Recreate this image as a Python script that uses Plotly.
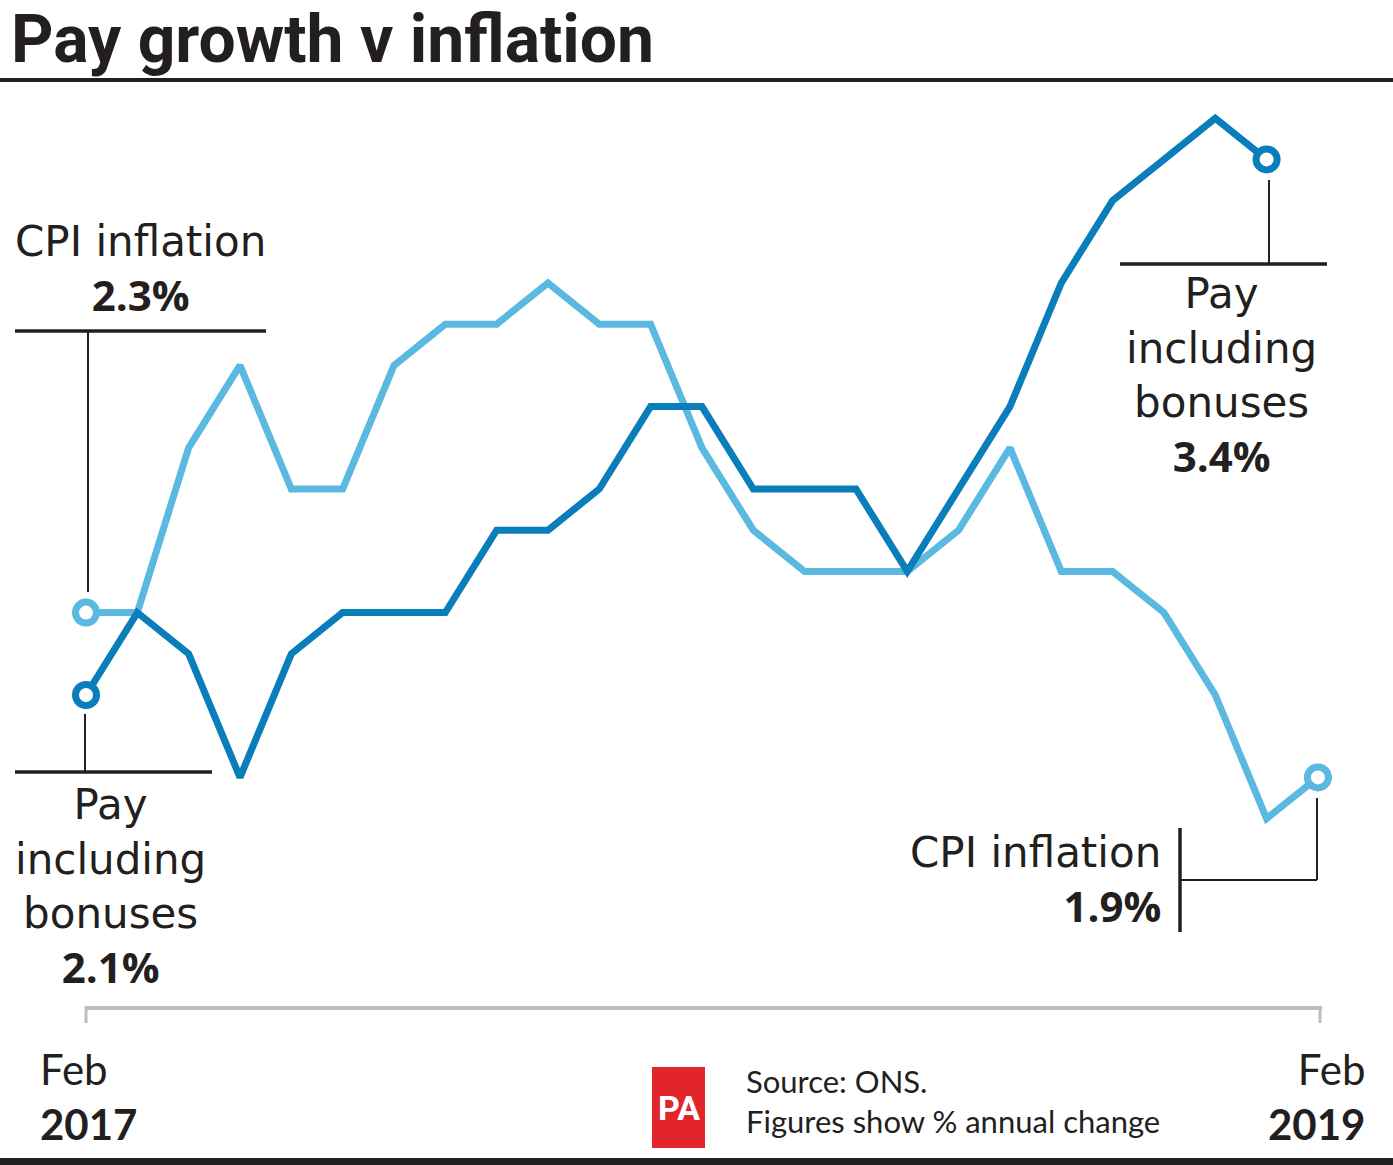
import plotly.graph_objects as go

# ---------------- data ----------------
months = ["Feb 2017", "Mar 2017", "Apr 2017", "May 2017", "Jun 2017", "Jul 2017",
          "Aug 2017", "Sep 2017", "Oct 2017", "Nov 2017", "Dec 2017", "Jan 2018",
          "Feb 2018", "Mar 2018", "Apr 2018", "May 2018", "Jun 2018", "Jul 2018",
          "Aug 2018", "Sep 2018", "Oct 2018", "Nov 2018", "Dec 2018", "Jan 2019",
          "Feb 2019"]
pay_incl_bonuses = [2.1, 2.3, 2.2, 1.9, 2.2, 2.3, 2.3, 2.3, 2.5, 2.5, 2.6, 2.8,
                    2.8, 2.6, 2.6, 2.6, 2.4, 2.6, 2.8, 3.1, 3.3, 3.4, 3.5, 3.4]
cpi_inflation = [2.3, 2.3, 2.7, 2.9, 2.6, 2.6, 2.9, 3.0, 3.0, 3.1, 3.0, 3.0,
                 2.7, 2.5, 2.4, 2.4, 2.4, 2.5, 2.7, 2.4, 2.4, 2.3, 2.1, 1.8, 1.9]
start_label = ("Feb", "2017")
end_label = ("Feb", "2019")

# ---------------- layout constants ----------------
W, H = 1393, 1165
DARK = "#0a7dbb"
LIGHT = "#5bb8e1"
INK = "#231f20"
FONT = "DejaVu Sans"
BOLD_FONT = "Open Sans"
SMALL_FONT = "Lato"
TITLE_FONT = "Roboto"

def px(x):
    return x / W

def py(y):
    return 1 - y / H

x_idx = list(range(len(months)))
pay_x = x_idx[:len(pay_incl_bonuses)]
cpi_x = x_idx[:len(cpi_inflation)]

# pixel mapping for the plot: month 0 -> 86px, month step 51.33px
x0_px, step = 86.0, 51.33
y_ref_px, y_ref_val, px_per_pt = 695.0, 2.1, 412.0
x_range = [-x0_px / step, (W - x0_px) / step]
y_range = [y_ref_val - (H - y_ref_px) / px_per_pt, y_ref_val + y_ref_px / px_per_pt]

fig = go.Figure()

fig.add_trace(go.Scatter(x=cpi_x, y=cpi_inflation, mode="lines",
                         line=dict(color=LIGHT, width=7), hoverinfo="skip",
                         name="CPI inflation"))
fig.add_trace(go.Scatter(x=pay_x, y=pay_incl_bonuses, mode="lines",
                         line=dict(color=DARK, width=7), hoverinfo="skip",
                         name="Pay including bonuses"))
fig.add_trace(go.Scatter(x=[cpi_x[0], cpi_x[-1]], y=[cpi_inflation[0], cpi_inflation[-1]],
                         mode="markers",
                         marker=dict(symbol="circle", size=21, color="white",
                                     line=dict(color=LIGHT, width=7)),
                         hoverinfo="skip"))
fig.add_trace(go.Scatter(x=[pay_x[0], pay_x[-1]], y=[pay_incl_bonuses[0], pay_incl_bonuses[-1]],
                         mode="markers",
                         marker=dict(symbol="circle", size=21, color="white",
                                     line=dict(color=DARK, width=7)),
                         hoverinfo="skip"))

shapes = []

def pline(x0, y0, x1, y1, color=INK, width=2):
    shapes.append(dict(type="line", xref="paper", yref="paper",
                       x0=px(x0), y0=py(y0), x1=px(x1), y1=py(y1),
                       line=dict(color=color, width=width)))

# rules
pline(0, 80, W, 80, width=4)
shapes.append(dict(type="rect", xref="paper", yref="paper", x0=0, x1=1,
                   y0=py(H), y1=py(1158), fillcolor=INK, line=dict(width=0)))
# time axis bracket
pline(85, 1008, 1322, 1008, color="#bdbdbd", width=4)
pline(86, 1007, 86, 1023, color="#bdbdbd", width=3)
pline(1320, 1007, 1320, 1023, color="#bdbdbd", width=3)
# leaders: CPI start
pline(15, 331, 266, 331, width=3.5)
pline(88, 331, 88, 592, width=2)
# pay start
pline(15, 772, 212, 772, width=3.5)
pline(85, 714, 85, 772, width=2)
# pay end
pline(1120, 264, 1327, 264, width=3.5)
pline(1269, 180, 1269, 264, width=2)
# CPI end
pline(1317, 798, 1317, 880, width=2)
pline(1180, 880, 1317, 880, width=2)
pline(1180, 828, 1180, 932, width=3.5)
# PA logo box
shapes.append(dict(type="rect", xref="paper", yref="paper", x0=px(652), x1=px(705),
                   y0=py(1148), y1=py(1067), fillcolor="#e2242b", line=dict(width=0)))

annotations = []

def note(x, y, text, size, xanchor="center", align="center", color=INK, family=FONT,
         yanchor="middle", borderpad=1):
    annotations.append(dict(xref="paper", yref="paper", x=px(x), y=py(y), text=text,
                            showarrow=False, xanchor=xanchor, yanchor=yanchor, align=align,
                            borderpad=borderpad,
                            font=dict(family=family, size=size, color=color)))

def pct(v):
    return f"<span style='font-family:{BOLD_FONT};font-weight:bold'>{v}%</span>"

note(10, 0, "<b>Pay growth v inflation</b>", 66, xanchor="left", family=TITLE_FONT,
     yanchor="top", borderpad=0)
note(140, 270, "CPI inflation<br>" + pct(cpi_inflation[0]), 42)
note(110, 887, "Pay<br>including<br>bonuses<br>" + pct(pay_incl_bonuses[0]), 42)
note(1221, 377, "Pay<br>including<br>bonuses<br>" + pct(pay_incl_bonuses[-1]), 42)
note(1163, 881, "CPI inflation<br>" + pct(cpi_inflation[-1]), 42, xanchor="right", align="right")
note(38, 1096, f"{start_label[0]}<br><b>{start_label[1]}</b>", 42, xanchor="left", align="left",
     family=SMALL_FONT)
note(1367, 1096, f"{end_label[0]}<br><b>{end_label[1]}</b>", 42, xanchor="right", align="right",
     family=SMALL_FONT)
note(744, 1101, "Source: ONS.<br>Figures show % annual change", 31, xanchor="left", align="left",
     family=SMALL_FONT)
note(679, 1108, "<b>PA</b>", 34, color="white", family=TITLE_FONT)

fig.update_layout(
    width=W, height=H,
    margin=dict(l=0, r=0, t=0, b=0),
    paper_bgcolor="white", plot_bgcolor="white",
    showlegend=False,
    xaxis=dict(range=x_range, visible=False, fixedrange=True),
    yaxis=dict(range=y_range, visible=False, fixedrange=True),
    shapes=shapes, annotations=annotations,
)

fig.write_html("out.html", config={"displayModeBar": False},
               post_script="document.body.style.margin='0';")
